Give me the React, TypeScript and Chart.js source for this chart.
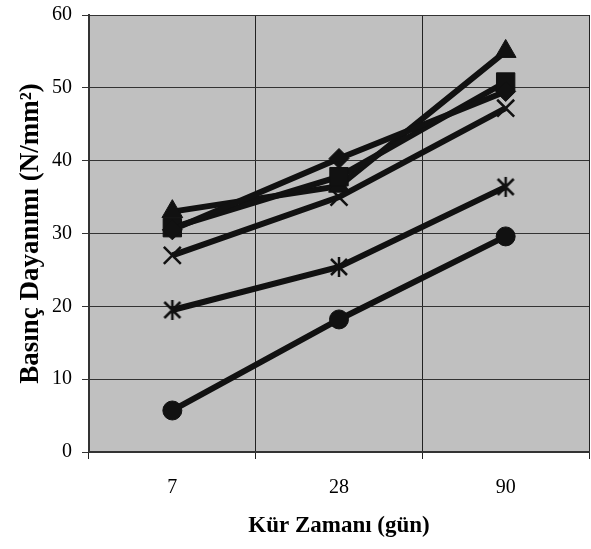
import React, { useEffect, useRef } from "react";
import { Chart, registerables } from "chart.js";

Chart.register(...registerables);

const categories = ["7", "28", "90"];
const seriesDiamond = [30.5, 40.3, 49.5];
const seriesSquare = [30.8, 37.8, 50.8];
const seriesTriangle = [33.0, 36.5, 55.0];
const seriesX = [27.0, 35.0, 47.2];
const seriesStar = [19.5, 25.4, 36.4];
const seriesCircle = [5.7, 18.2, 29.6];

const INK = "#111111";

const bgPlugin = {
  id: "plotBg",
  beforeDraw(chart: any) {
    const { ctx, chartArea } = chart;
    ctx.save();
    ctx.fillStyle = "#C0C0C0";
    ctx.fillRect(chartArea.left, chartArea.top, chartArea.right - chartArea.left, chartArea.bottom - chartArea.top);
    ctx.restore();
  },
};

function makeAsterisk(): HTMLCanvasElement {
  const c = document.createElement("canvas");
  c.width = 22;
  c.height = 22;
  const g = c.getContext("2d")!;
  g.strokeStyle = INK;
  g.lineWidth = 2.5;
  g.beginPath();
  g.moveTo(11, 1);
  g.lineTo(11, 21);
  g.moveTo(3, 3);
  g.lineTo(19, 19);
  g.moveTo(19, 3);
  g.lineTo(3, 19);
  g.stroke();
  return c;
}

function ds(label: string, data: number[], pointStyle: any, radius: number, pbw: number) {
  return {
    label,
    data,
    borderColor: INK,
    backgroundColor: INK,
    borderWidth: 6,
    pointStyle,
    pointRadius: radius,
    pointHoverRadius: radius,
    pointBorderWidth: pbw,
    pointBackgroundColor: INK,
    pointBorderColor: INK,
    tension: 0,
  };
}

export default function App() {
  const ref = useRef<HTMLCanvasElement>(null);
  useEffect(() => {
    if (!ref.current) return;
    const chart = new Chart(ref.current, {
      type: "line",
      data: {
        labels: categories,
        datasets: [
          ds("A", seriesDiamond, "rectRot", 10, 1),
          ds("B", seriesSquare, "rect", 13, 1),
          ds("C", seriesTriangle, "triangle", 12, 1),
          ds("D", seriesX, "crossRot", 12, 2.5),
          ds("E", seriesStar, makeAsterisk(), 10, 2.5),
          ds("F", seriesCircle, "circle", 9.5, 1),
        ] as any,
      },
      options: {
        animation: false,
        responsive: false,
        devicePixelRatio: 1,
        layout: { autoPadding: false, padding: { left: 0, right: 2, top: 15, bottom: 0 } },
        plugins: { legend: { display: false }, tooltip: { enabled: false } },
        scales: {
          x: {
            type: "category",
            offset: true,
            grid: { offset: true, color: "#222222", lineWidth: 1, tickLength: 7, drawTicks: true },
            border: { color: "#333333", width: 2 },
            ticks: { color: "#000", padding: 17, font: { family: "Liberation Serif", size: 20 } },
            title: {
              display: true,
              text: "Kür Zamanı (gün)",
              color: "#000",
              font: { family: "Liberation Serif", size: 23, weight: "bold" },
              padding: { top: 0, bottom: 9 },
            },
            afterFit(scale: any) {
              scale.height = 97;
              scale.paddingLeft = 0;
              scale.paddingRight = 0;
            },
          },
          y: {
            min: 0,
            max: 60,
            ticks: { stepSize: 10, color: "#000", padding: 10, font: { family: "Liberation Serif", size: 20 } },
            grid: { color: "#333333", lineWidth: 1, tickLength: 7 },
            border: { color: "#333333", width: 2 },
            title: {
              display: true,
              text: "Basınç Dayanımı (N/mm²)",
              color: "#000",
              font: { family: "Liberation Serif", size: 27, weight: "bold" },
              padding: { top: 15, bottom: 0 },
            },
            afterFit(scale: any) {
              scale.width = 89;
              scale.paddingTop = 0;
              scale.paddingBottom = 0;
            },
          },
        },
      },
      plugins: [bgPlugin],
    } as any);
    return () => chart.destroy();
  }, []);
  return (
    <div style={{ position: "fixed", left: 0, top: 0, width: 591, height: 549, background: "#fff" }}>
      <canvas ref={ref} width={591} height={549} style={{ width: 591, height: 549 }} />
    </div>
  );
}
